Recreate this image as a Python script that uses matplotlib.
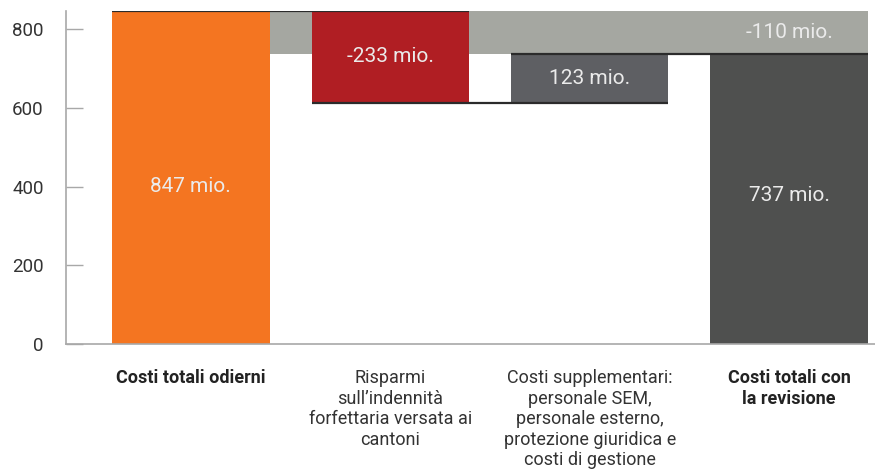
import matplotlib
matplotlib.use("Agg")
import matplotlib.pyplot as plt
from matplotlib.patches import Rectangle

categories = ["Costi totali odierni",
              "Risparmi\nsull\u2019indennit\u00e0\nforfettaria versata ai\ncantoni",
              "Costi supplementari:\npersonale SEM,\npersonale esterno,\nprotezione giuridica e\ncosti di gestione",
              "Costi totali con\nla revisione"]
changes = [847, -233, 123]
total_end = 737
diff_total = -110
bar_labels = ["847 mio.", "-233 mio.", "123 mio.", "737 mio."]
band_label = "-110 mio."
yticks = [0, 200, 400, 600, 800]

colors = ["#F47521", "#B01E23", "#5E5F63", "#4F504F"]
band_color = "#A5A7A1"
text_color = "#EBEBEB"

plt.rcParams['font.family'] = ['Roboto', 'DejaVu Sans']

fig = plt.figure(figsize=(8.75, 4.75), dpi=100)
ax = fig.add_axes([66/875, 131/475, (875-66)/875, 333/475])

w = 0.79
start = changes[0]
x = list(range(4))

# band between start total and end total
ax.add_patch(Rectangle((x[0] + w/2, total_end), x[3] + w/2 - (x[0] + w/2),
                       start - total_end, facecolor=band_color, edgecolor='none', zorder=1))

# bars
ax.bar(x[0], start, width=w, color=colors[0], zorder=2)
lvl1 = start + changes[1]
ax.bar(x[1], -changes[1], bottom=lvl1, width=w, color=colors[1], zorder=2)
lvl2 = lvl1 + changes[2]
ax.bar(x[2], changes[2], bottom=lvl1, width=w, color=colors[2], zorder=2)
ax.bar(x[3], total_end, width=w, color=colors[3], zorder=2)

# connector lines
lc = "#2b2b2b"
ax.plot([x[0] - w/2, x[1] + w/2], [start, start], color=lc, lw=1.6, zorder=3, solid_capstyle='butt')
ax.plot([x[1] - w/2, x[2] + w/2], [lvl1, lvl1], color=lc, lw=1.6, zorder=3, solid_capstyle='butt')
ax.plot([x[2] - w/2, x[3] + w/2], [lvl2, lvl2], color=lc, lw=1.6, zorder=3, solid_capstyle='butt')

fs = 15
ax.text(x[0], 400, bar_labels[0], ha='center', va='center', color=text_color, fontsize=fs, zorder=4)
ax.text(x[1], (start + lvl1) / 2, bar_labels[1], ha='center', va='center', color=text_color, fontsize=fs, zorder=4)
ax.text(x[2], (lvl1 + lvl2) / 2, bar_labels[2], ha='center', va='center', color=text_color, fontsize=fs, zorder=4)
ax.text(x[3], 378, bar_labels[3], ha='center', va='center', color=text_color, fontsize=fs, zorder=4)
ax.text(x[3], (start + total_end) / 2, band_label, ha='center', va='center', color=text_color, fontsize=fs, zorder=4)

ax.set_xlim(-(191-66)/199.5, 3 + (875-789)/199.5)
ax.set_ylim(0, start)

for s in ['top', 'right']:
    ax.spines[s].set_visible(False)
for s in ['left', 'bottom']:
    ax.spines[s].set_color('#A8A8A8')
    ax.spines[s].set_linewidth(1.2)

ax.set_yticks(yticks)
ax.set_yticklabels([str(v) for v in yticks])
ax.tick_params(axis='y', direction='in', length=12, width=1.0, color='#A8A8A8',
               pad=16, labelsize=13.5, labelcolor='#333333')
ax.set_xticks(x)
ax.set_xticklabels(categories)
ax.tick_params(axis='x', length=0, pad=18, labelsize=13, labelcolor='#333333')
for i, lab in enumerate(ax.get_xticklabels()):
    lab.set_va('top')
    lab.set_linespacing(1.18)
    if i in (0, 3):
        lab.set_fontweight('bold')
        lab.set_color('#222222')

fig.savefig("out.png", dpi=100)
